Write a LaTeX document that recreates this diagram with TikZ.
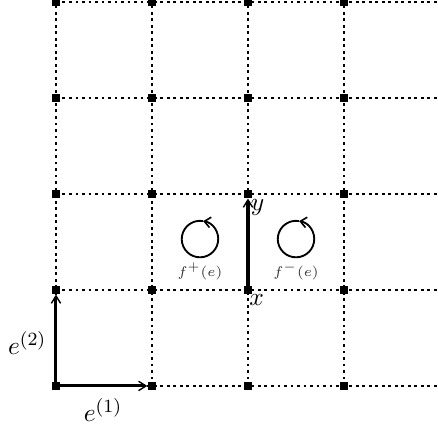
\documentclass[tikz,border=0pt]{standalone}
\usetikzlibrary{arrows.meta}
\begin{document}
\begin{tikzpicture}[x=1.45cm,y=1.45cm,
  gridline/.style={line width=1.2pt, dash pattern=on 1.2pt off 1.6pt},
  pt/.style={fill=black, draw=none, rectangle, inner sep=0pt, minimum size=3.6pt},
  vec/.style={line width=1.3pt, -{Straight Barb[length=3.2pt,width=4pt,line width=0.6pt]}},
  loopc/.style={line width=0.8pt, -{Straight Barb[length=2.6pt,width=4.5pt,line width=0.7pt]}},
  lab/.style={font=\fontsize{11pt}{13pt}\selectfont},
  flab/.style={font=\fontsize{6pt}{7pt}\selectfont, text=black!80}]
\useasboundingbox (-0.583,-0.406) rectangle (3.979,4.02);
% grid coordinates
\foreach \i in {0,...,3} \foreach \j in {0,...,4} { \coordinate (g\i\j) at (\i,\j); }
\foreach \j in {0,...,4} { \coordinate (r\j) at (3.979,\j); }
% dotted grid
\foreach \j in {0,...,4} { \draw[gridline] (g0\j) -- (r\j); }
\foreach \i in {0,...,3} { \draw[gridline] (g\i0) -- (g\i4); }
% vertices
\foreach \i in {0,...,3} \foreach \j in {0,...,4} { \node[pt] (n\i\j) at (g\i\j) {}; }
% basis vectors
\draw[vec] (n00.center) -- (n10);
\draw[vec] (n00.center) -- (n01);
\node[lab] (e1) at (0.49,-0.25) {$e^{(1)}$};
\node[lab] (e2) at (-0.30,0.448) {$e^{(2)}$};
% edge x -> y
\draw[vec] (n21.center) -- (n22);
\node[lab] (lx) at (2.09,0.89) {$x$};
\node[lab] (ly) at (2.1,1.86) {$y$};
% faces
\coordinate (c1) at (1.5,1.53);
\coordinate (c2) at (2.5,1.53);
\draw[loopc] (c1) ++(80:0.19) arc (80:440:0.19);
\draw[loopc] (c2) ++(80:0.19) arc (80:440:0.19);
\node[flab] (f1) at (1.5,1.19) {$f^{+}(e)$};
\node[flab] (f2) at (2.5,1.19) {$f^{-}(e)$};
\end{tikzpicture}
\end{document}
